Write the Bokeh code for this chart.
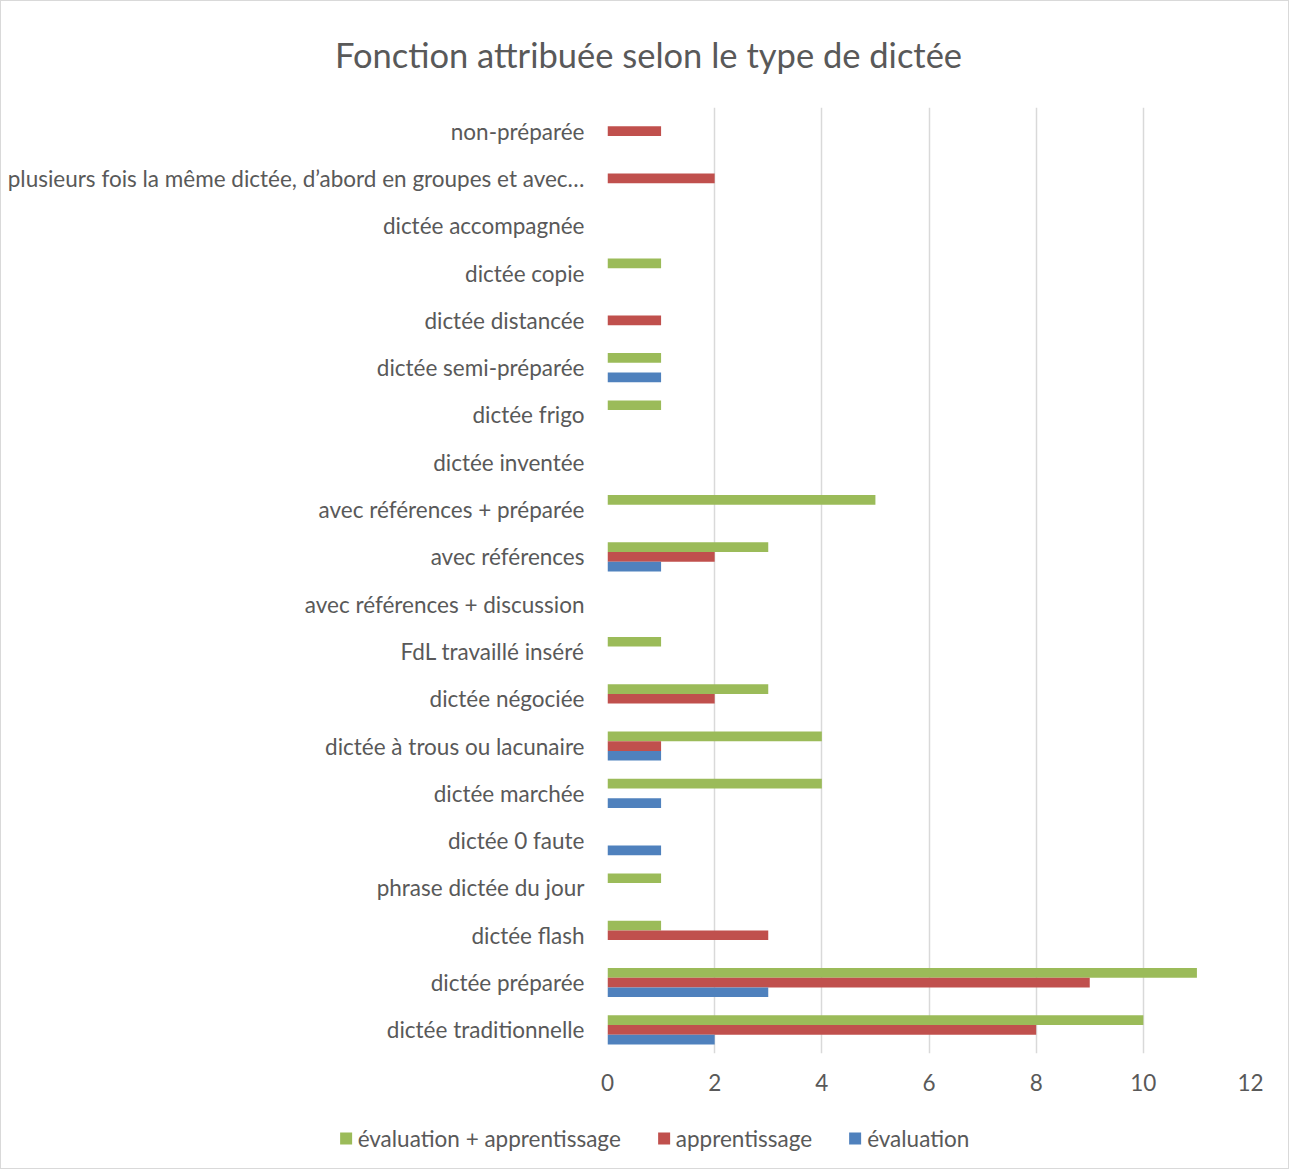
from bokeh.plotting import figure
from bokeh.models import ColumnDataSource, FactorRange, Legend, LegendItem, Label, FixedTicker
from bokeh.transform import dodge
from bokeh.embed import file_html
from bokeh.resources import INLINE

# Categories, bottom to top
categories = [
    "dictée traditionnelle",
    "dictée préparée",
    "dictée flash",
    "phrase dictée du jour",
    "dictée 0 faute",
    "dictée marchée",
    "dictée à trous ou lacunaire",
    "dictée négociée",
    "FdL travaillé inséré",
    "avec références + discussion",
    "avec références",
    "avec références + préparée",
    "dictée inventée",
    "dictée frigo",
    "dictée semi-préparée",
    "dictée distancée",
    "dictée copie",
    "dictée accompagnée",
    "plusieurs fois la même dictée, d’abord en groupes et avec…",
    "non-préparée",
]
evaluation = [2, 3, 0, 0, 1, 1, 1, 0, 0, 0, 1, 0, 0, 0, 1, 0, 0, 0, 0, 0]
apprentissage = [8, 9, 3, 0, 0, 0, 1, 2, 0, 0, 2, 0, 0, 0, 0, 1, 0, 0, 2, 1]
eval_apprentissage = [10, 11, 1, 1, 0, 4, 4, 3, 1, 0, 3, 5, 0, 1, 1, 0, 1, 0, 0, 0]
x_ticks = [0, 2, 4, 6, 8, 10, 12]

title_text = "Fonction attribuée selon le type de dictée"
series_names = ["évaluation + apprentissage", "apprentissage", "évaluation"]

GREEN = "#9BBB59"
RED = "#C0504D"
BLUE = "#4F81BD"
TEXT = "#595959"
GRID = "#D9D9D9"
FONT = "Lato"
BORDER = "1px solid #d9d9d9"

src = ColumnDataSource(dict(cat=categories, ev=evaluation, ap=apprentissage, ea=eval_apprentissage))

W = 1289
H_TITLE = 90
H_MAIN = 1016
H_LEG = 63

# Title strip (separate root so the title is centred over the whole chart)
tfig = figure(width=W, height=H_TITLE, output_backend="svg", toolbar_location=None,
              x_axis_location=None, y_axis_location=None, x_range=(0, 1), y_range=(0, 1),
              min_border_left=0, min_border_right=0, min_border_top=0, min_border_bottom=0)
tfig.styles = {"border-top": BORDER, "border-left": BORDER, "border-right": BORDER,
               "box-sizing": "border-box"}
tfig.outline_line_color = None
tfig.grid.grid_line_color = None
tfig.add_layout(Label(x=647, y=37, x_units="screen", y_units="screen", text=title_text,
                      text_align="center", text_baseline="middle", text_font=FONT,
                      text_font_size="34.5px", text_color=TEXT))

# Main chart
p = figure(width=W, height=H_MAIN, y_range=FactorRange(factors=categories), x_range=(0, 12),
           output_backend="svg", toolbar_location=None,
           min_border_left=606, min_border_right=40, min_border_top=17, min_border_bottom=53)
p.styles = {"border-left": BORDER, "border-right": BORDER, "box-sizing": "border-box"}

bh = 0.205
r_ea = p.hbar(y=dodge("cat", bh, range=p.y_range), left=0, right="ea", height=bh,
              source=src, color=GREEN, line_color=None)
r_ap = p.hbar(y=dodge("cat", 0, range=p.y_range), left=0, right="ap", height=bh,
              source=src, color=RED, line_color=None)
r_ev = p.hbar(y=dodge("cat", -bh, range=p.y_range), left=0, right="ev", height=bh,
              source=src, color=BLUE, line_color=None)

p.outline_line_color = None
p.ygrid.grid_line_color = None
p.xgrid.grid_line_color = GRID
p.xgrid.grid_line_width = 1.5
p.xaxis.ticker = FixedTicker(ticks=x_ticks)

for ax in (p.xaxis, p.yaxis):
    ax.axis_line_color = None
    ax.major_tick_line_color = None
    ax.minor_tick_line_color = None
    ax.major_label_text_color = TEXT
    ax.major_label_text_font = FONT
    ax.major_label_text_font_size = "22.5px"
p.yaxis.major_label_standoff = 17
p.xaxis.major_label_standoff = 14

# Legend strip (separate root so the legend is centred under the whole chart)
leg = figure(width=W, height=H_LEG, output_backend="svg", toolbar_location=None,
             x_axis_location=None, y_axis_location=None, x_range=(0, 1), y_range=(0, 1),
             min_border_left=16, min_border_right=0, min_border_top=0, min_border_bottom=0)
leg.styles = {"border-bottom": BORDER, "border-left": BORDER, "border-right": BORDER,
              "box-sizing": "border-box"}
leg.outline_line_color = None
leg.grid.grid_line_color = None
d_ea = leg.hbar(y=[0], left=[0], right=[0], height=0, color=GREEN, line_color=None)
d_ap = leg.hbar(y=[0], left=[0], right=[0], height=0, color=RED, line_color=None)
d_ev = leg.hbar(y=[0], left=[0], right=[0], height=0, color=BLUE, line_color=None)
legend = Legend(items=[LegendItem(label=series_names[0], renderers=[d_ea]),
                       LegendItem(label=series_names[1], renderers=[d_ap]),
                       LegendItem(label=series_names[2], renderers=[d_ev])],
                location="center", orientation="horizontal",
                glyph_width=15, glyph_height=15, label_standoff=5, spacing=35,
                padding=0, margin=0, border_line_color=None, background_fill_alpha=0,
                label_text_font=FONT, label_text_font_size="22.5px", label_text_color=TEXT)
leg.add_layout(legend)

open("out.html", "w").write(file_html([tfig, p, leg], INLINE))
